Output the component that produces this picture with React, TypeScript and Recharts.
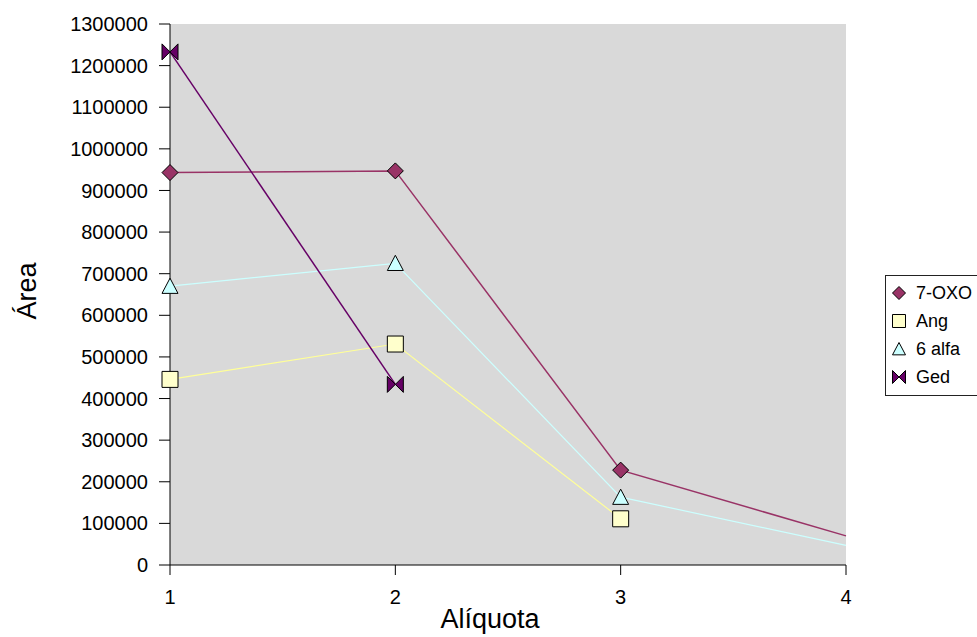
import React from "react";
import {
  LineChart,
  Line,
  XAxis,
  YAxis,
  CartesianGrid,
  Legend,
} from "recharts";

const aliquotas = [1, 2, 3, 4];
const oxo = [943000, 947000, 228000, 70000];
const ang = [446000, 531000, 111000, null];
const alfa = [670000, 725000, 163000, 47000];
const ged = [1233000, 434000, null, null];
const yTicks = [
  0, 100000, 200000, 300000, 400000, 500000, 600000, 700000, 800000, 900000,
  1000000, 1100000, 1200000, 1300000,
];

const data = aliquotas.map((x, i) => ({
  x,
  oxo: oxo[i],
  ang: ang[i],
  alfa: alfa[i],
  ged: ged[i],
}));

const series = [
  { key: "oxo", name: "7-OXO", shape: "diamond", fill: "#993366", line: "#993366", width: 1.5 },
  { key: "ang", name: "Ang", shape: "square", fill: "#ffffcc", line: "#ffff99", width: 1.2 },
  { key: "alfa", name: "6 alfa", shape: "triangle", fill: "#ccffff", line: "#ccffff", width: 1.2 },
  { key: "ged", name: "Ged", shape: "bowtie", fill: "#660066", line: "#660066", width: 1.5 },
];

const FONT = "'Liberation Sans', Arial, sans-serif";

// marker path centred on (cx, cy)
const markerPath = (shape: string, cx: number, cy: number, r: number) => {
  switch (shape) {
    case "diamond":
      return `M${cx},${cy - r}L${cx + r},${cy}L${cx},${cy + r}L${cx - r},${cy}Z`;
    case "square":
      return `M${cx - r},${cy - r}H${cx + r}V${cy + r}H${cx - r}Z`;
    case "triangle":
      return `M${cx},${cy - r}L${cx + r},${cy + r * 0.9}L${cx - r},${cy + r * 0.9}Z`;
    default:
      return `M${cx - r},${cy - r}L${cx},${cy}L${cx - r},${cy + r}ZM${cx + r},${cy - r}L${cx},${cy}L${cx + r},${cy + r}Z`;
  }
};

const makeDot = (shape: string, fill: string) => (props: any) => {
  const { cx, cy, index, payload } = props;
  if (cx == null || cy == null || payload?.x === 4) return <g key={`d-${index}`} />;
  return (
    <path
      key={`d-${index}`}
      d={markerPath(shape, cx, cy, 8)}
      fill={fill}
      stroke="#000"
      strokeWidth={1}
    />
  );
};

const LegendBox = () => (
  <div
    style={{
      width: 92,
      height: 121,
      border: "1px solid #222",
      borderRight: "none",
      background: "#fff",
      fontFamily: FONT,
      fontSize: 18,
      paddingTop: 3,
      boxSizing: "border-box",
    }}
  >
    {series.map((s) => (
      <div key={s.key} style={{ display: "flex", alignItems: "center", height: 28 }}>
        <svg width={30} height={20}>
          <path d={markerPath(s.shape, 13, 10, 6.5)} fill={s.fill} stroke="#000" strokeWidth={1} />
        </svg>
        <span style={{ color: "#000" }}>{s.name}</span>
      </div>
    ))}
  </div>
);

export default function App() {
  return (
    <div style={{ position: "absolute", left: 0, top: 0, background: "#fff" }}>
      <LineChart
        width={977}
        height={637}
        data={data}
        margin={{ top: 24, right: 39, bottom: 0, left: 10 }}
      >
        <CartesianGrid horizontal={false} vertical={false} stroke="none" fill="#d9d9d9" />
        <XAxis
          dataKey="x"
          type="number"
          domain={[1, 4]}
          ticks={aliquotas}
          height={72}
          stroke="#000"
          tickSize={10}
          tickMargin={15}
          tick={{ fill: "#000", fontSize: 20, fontFamily: FONT }}
          label={{
            content: () => (
              <text x={490} y={628} textAnchor="middle" fontSize={27} fontFamily={FONT} fill="#000">
                Alíquota
              </text>
            ),
          }}
        />
        <YAxis
          type="number"
          domain={[0, 1300000]}
          ticks={yTicks}
          interval={0}
          width={160}
          stroke="#000"
          tickSize={11}
          tickMargin={11}
          tick={{ fill: "#000", fontSize: 20, fontFamily: FONT }}
          label={{
            content: () => (
              <text
                x={36}
                y={291}
                transform="rotate(-90 36 291)"
                textAnchor="middle"
                fontSize={27}
                fontFamily={FONT}
                fill="#000"
              >
                Área
              </text>
            ),
          }}
        />
        <Legend
          layout="vertical"
          align="right"
          verticalAlign="middle"
          content={() => <LegendBox />}
          wrapperStyle={{ left: 885, top: 275, width: 92 }}
        />
        {series.map((s) => (
          <Line
            key={s.key}
            type="linear"
            dataKey={s.key}
            name={s.name}
            stroke={s.line}
            strokeWidth={s.width}
            dot={makeDot(s.shape, s.fill)}
            activeDot={false}
            isAnimationActive={false}
          />
        ))}
      </LineChart>
    </div>
  );
}
